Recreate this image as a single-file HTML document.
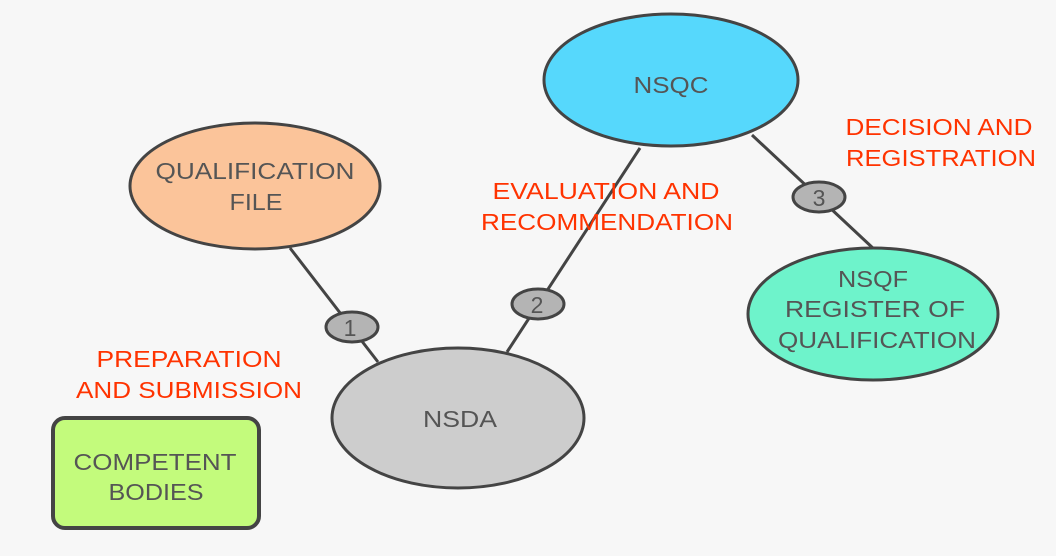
<!DOCTYPE html>
<html><head><style>html,body{margin:0;padding:0;background:#f7f7f7}</style></head>
<body>
<svg width="1056" height="551" xmlns="http://www.w3.org/2000/svg" font-family="Liberation Sans, sans-serif">
<rect width="1056" height="551" fill="#f7f7f7"/>
<g stroke="#444" stroke-width="3">
<line x1="290" y1="248" x2="378" y2="362"/>
<line x1="640" y1="148" x2="507" y2="352"/>
<line x1="752" y1="135" x2="875" y2="250"/>
<ellipse cx="255" cy="186" rx="125" ry="63" fill="#fbc49a"/>
<ellipse cx="671" cy="80" rx="127" ry="66" fill="#56d8fc"/>
<ellipse cx="458" cy="418" rx="126" ry="70" fill="#cdcdcd"/>
<ellipse cx="873" cy="314" rx="125" ry="66" fill="#6ef3cb"/>
<rect x="53" y="418" width="206" height="110" rx="12" fill="#c3fb7c" stroke-width="4"/>
<ellipse cx="352" cy="327" rx="26" ry="15" fill="#b4b4b4"/>
<ellipse cx="538" cy="304" rx="26" ry="15" fill="#b4b4b4"/>
<ellipse cx="819" cy="197" rx="26" ry="15" fill="#b4b4b4"/>
</g>
<g fill="#555" font-size="23" text-anchor="middle">
<text x="255" y="179" textLength="199" lengthAdjust="spacingAndGlyphs">QUALIFICATION</text><text x="256" y="210" textLength="53" lengthAdjust="spacingAndGlyphs">FILE</text>
<text x="671" y="93" textLength="75" lengthAdjust="spacingAndGlyphs">NSQC</text>
<text x="460" y="427" textLength="74" lengthAdjust="spacingAndGlyphs">NSDA</text>
<text x="873" y="287" textLength="70" lengthAdjust="spacingAndGlyphs">NSQF</text><text x="875" y="317" textLength="180" lengthAdjust="spacingAndGlyphs">REGISTER OF</text><text x="877" y="348" textLength="198" lengthAdjust="spacingAndGlyphs">QUALIFICATION</text>
<text x="155" y="470" textLength="163" lengthAdjust="spacingAndGlyphs">COMPETENT</text><text x="156" y="500" textLength="95" lengthAdjust="spacingAndGlyphs">BODIES</text>
<text x="350" y="336">1</text><text x="537" y="313">2</text><text x="819" y="206">3</text>
</g>
<g fill="#ff3300" font-size="23" text-anchor="middle">
<text x="189" y="367" textLength="185" lengthAdjust="spacingAndGlyphs">PREPARATION</text><text x="189" y="398" textLength="226" lengthAdjust="spacingAndGlyphs">AND SUBMISSION</text>
<text x="606" y="199" textLength="227" lengthAdjust="spacingAndGlyphs">EVALUATION AND</text><text x="607" y="230" textLength="252" lengthAdjust="spacingAndGlyphs">RECOMMENDATION</text>
<text x="939" y="135" textLength="187" lengthAdjust="spacingAndGlyphs">DECISION AND</text><text x="941" y="166" textLength="190" lengthAdjust="spacingAndGlyphs">REGISTRATION</text>
</g>
</svg>
</body></html>
